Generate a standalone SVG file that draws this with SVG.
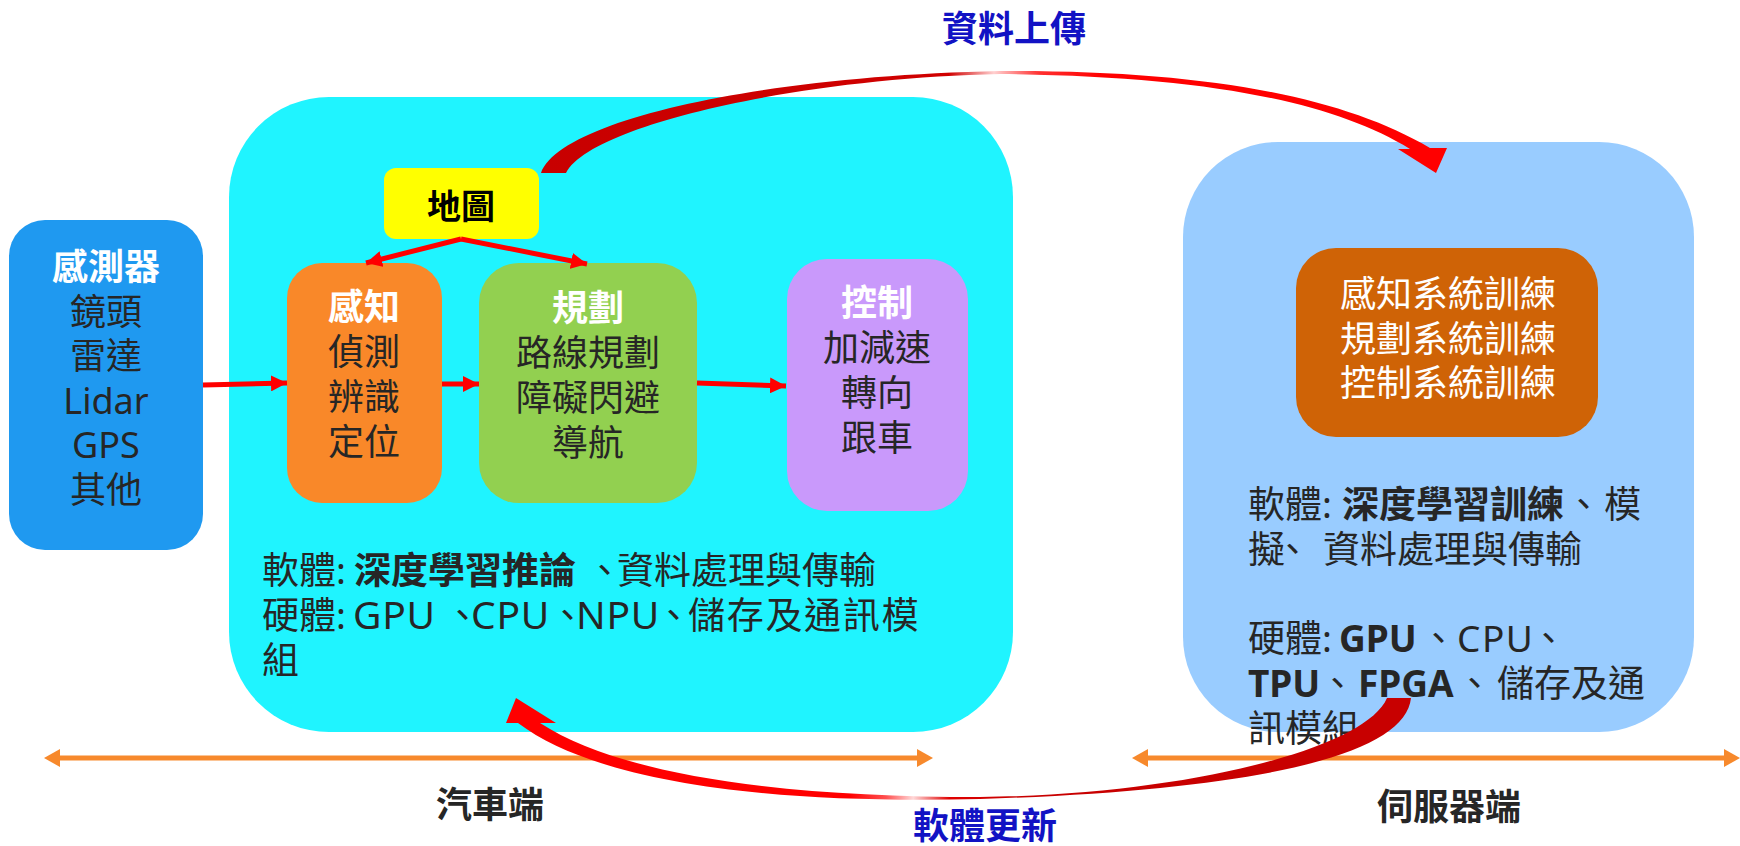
<svg xmlns="http://www.w3.org/2000/svg" width="1740" height="846" viewBox="0 0 1740 846">
<defs>
<style>
text{font-family:'Noto Sans','Noto Sans CJK TC',sans-serif;font-size:36px;}
.p{font-size:37px;}
.c{text-anchor:middle;}
.w{fill:#ffffff;}
.k{fill:#262626;}
.b{font-weight:bold;}
.l{letter-spacing:1.5px;}
.L{font-size:39px;letter-spacing:0.8px;}
.bl{fill:#1212C4;font-weight:bold;}
.ra{stroke:#FF0000;stroke-width:5;fill:none;marker-end:url(#rh);}
.ax{stroke:#F7892C;stroke-width:5;fill:none;marker-end:url(#oh);marker-start:url(#oh);}
</style>
<marker id="rh" markerUnits="userSpaceOnUse" markerWidth="16" markerHeight="16" refX="16" refY="8" orient="auto">
<path d="M0,0 L16,8 L0,16 Z" fill="#FF0000"/>
</marker>
<marker id="oh" markerUnits="userSpaceOnUse" markerWidth="16" markerHeight="18" refX="10" refY="9" orient="auto-start-reverse">
<path d="M0,0 L16,9 L0,18 Z" fill="#F7892C"/>
</marker>
<linearGradient id="gUp" gradientUnits="userSpaceOnUse" x1="541" y1="0" x2="1447" y2="0">
<stop offset="0" stop-color="#C80000"/>
<stop offset="0.45" stop-color="#D00000"/>
<stop offset="0.5" stop-color="#FFD0D0"/>
<stop offset="0.55" stop-color="#FF3030"/>
<stop offset="0.62" stop-color="#FF0000"/>
<stop offset="1" stop-color="#FF0000"/>
</linearGradient>
<linearGradient id="gDn" gradientUnits="userSpaceOnUse" x1="506" y1="0" x2="1411" y2="0">
<stop offset="0" stop-color="#FF0000"/>
<stop offset="0.38" stop-color="#FF0000"/>
<stop offset="0.42" stop-color="#FF5050"/>
<stop offset="0.45" stop-color="#FFD8D8"/>
<stop offset="0.49" stop-color="#E00000"/>
<stop offset="0.56" stop-color="#C80000"/>
<stop offset="1" stop-color="#C80000"/>
</linearGradient>
</defs>
<rect width="1740" height="846" fill="#ffffff"/>

<g id="car-side">
<rect x="229" y="97" width="784" height="635" rx="100" ry="100" fill="#1FF4FF"/>
<text y="584" class="k p"><tspan x="262">軟體:</tspan><tspan x="354" class="b">深度學習推論</tspan><tspan x="586">、</tspan><tspan x="617">資料處理與傳輸</tspan></text>
<text y="629" class="k p"><tspan x="262">硬體:</tspan><tspan x="353" class="L">GPU</tspan><tspan x="444">、</tspan><tspan x="471" class="L">CPU</tspan><tspan x="549">、</tspan><tspan x="576" class="L">NPU</tspan><tspan x="655">、</tspan><tspan x="688" style="letter-spacing:1.7px">儲存及通訊模</tspan></text>
<text x="262" y="674" class="k p">組</text>
</g>

<g id="server-side">
<rect x="1183" y="142" width="511" height="590" rx="95" ry="95" fill="#99CCFF"/>
<text y="518" class="k p"><tspan x="1248">軟體:</tspan><tspan x="1342" class="b">深度學習訓練</tspan><tspan x="1565">、</tspan><tspan x="1604">模</tspan></text>
<text y="563" class="k p"><tspan x="1248">擬</tspan><tspan x="1274">、</tspan><tspan x="1323">資料處理與傳輸</tspan></text>
<text y="652" class="k p"><tspan x="1248">硬體:</tspan><tspan x="1339" class="b">GPU</tspan><tspan x="1420">、</tspan><tspan x="1457" class="l">CPU</tspan><tspan x="1530">、</tspan></text>
<text y="697" class="k p"><tspan x="1248" class="b">TPU</tspan><tspan x="1319">、</tspan><tspan x="1358" class="b">FPGA</tspan><tspan x="1456">、</tspan><tspan x="1497">儲存及通</tspan></text>
<text x="1248" y="742" class="k p">訊模組</text>
</g>

<g id="sensor">
<rect x="9" y="220" width="194" height="330" rx="36" ry="36" fill="#1F99F0"/>
<text x="106" y="280" class="c w b">感測器</text>
<text x="106" y="325" class="c k">鏡頭</text>
<text x="106" y="369" class="c k">雷達</text>
<text x="106" y="414" class="c k">Lidar</text>
<text x="106" y="458" class="c k">GPS</text>
<text x="106" y="503" class="c k">其他</text>
</g>

<g id="map">
<rect x="384" y="168" width="155" height="71" rx="12" ry="12" fill="#FFFF00"/>
<text x="461" y="219" class="c b" style="font-size:34px;fill:#000">地圖</text>
</g>

<g id="perception">
<rect x="287" y="263" width="155" height="240" rx="35" ry="35" fill="#F98829"/>
<text x="364" y="320" class="c w b">感知</text>
<text x="364" y="365" class="c k">偵測</text>
<text x="364" y="410" class="c k">辨識</text>
<text x="364" y="455" class="c k">定位</text>
</g>

<g id="planning">
<rect x="479" y="263" width="218" height="240" rx="40" ry="40" fill="#92D050"/>
<text x="588" y="321" class="c w b">規劃</text>
<text x="588" y="366" class="c k">路線規劃</text>
<text x="588" y="411" class="c k">障礙閃避</text>
<text x="588" y="456" class="c k">導航</text>
</g>

<g id="control">
<rect x="787" y="259" width="181" height="252" rx="40" ry="40" fill="#C999FB"/>
<text x="877" y="316" class="c w b">控制</text>
<text x="877" y="361" class="c k">加減速</text>
<text x="877" y="406" class="c k">轉向</text>
<text x="877" y="451" class="c k">跟車</text>
</g>

<g id="training">
<rect x="1296" y="248" width="302" height="189" rx="40" ry="40" fill="#CF6306"/>
<text x="1448" y="307" class="c w">感知系統訓練</text>
<text x="1448" y="352" class="c w">規劃系統訓練</text>
<text x="1448" y="396" class="c w">控制系統訓練</text>
</g>

<g id="axes">
<line x1="50" y1="758" x2="927" y2="758" class="ax"/>
<line x1="1138" y1="758" x2="1734" y2="758" class="ax"/>
<text x="490" y="818" class="c k b">汽車端</text>
<text x="1449" y="820" class="c k b">伺服器端</text>
</g>

<g id="connectors">
<line x1="203" y1="385" x2="287" y2="383" class="ra"/>
<line x1="442" y1="384" x2="479" y2="384" class="ra"/>
<line x1="697" y1="383" x2="786" y2="386" class="ra"/>
<line x1="461" y1="239" x2="366" y2="263" class="ra"/>
<line x1="461" y1="239" x2="587" y2="264" class="ra"/>
<path id="upload" fill="url(#gUp)" d="M541,173 C560,120 760,76 1000,71 C1200,70 1340,95 1430,148 L1447,148 L1436,173 L1398,149 L1410,149 C1330,100 1200,76 1000,74 C800,78 590,125 566,173 Z"/>
<path id="update" fill="url(#gDn)" d="M1411,698 C1405,755 1260,790 980,799 C780,804 600,785 518,723 L506,723 L516,698 L556,723 L540,723 C620,775 780,797 980,797 C1180,795 1365,750 1387,698 Z"/>
<text x="1014" y="42" class="c bl">資料上傳</text>
<text x="985" y="839" class="c bl">軟體更新</text>
</g>
</svg>
